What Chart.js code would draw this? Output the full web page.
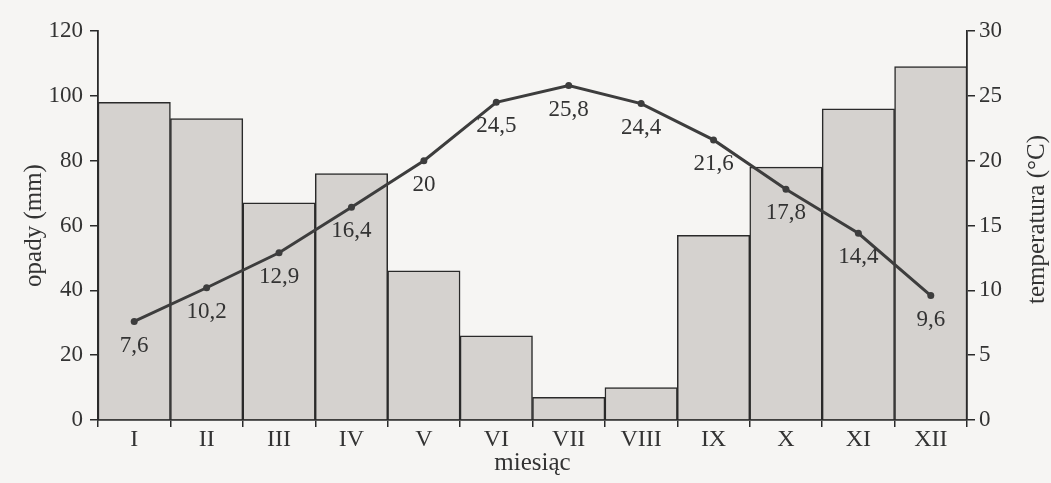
<!DOCTYPE html>
<html>
<head>
<meta charset="utf-8">
<script src="https://cdn.jsdelivr.net/npm/chart.js@4"></script>
<style>
  html, body { margin: 0; padding: 0; background: #f6f5f3; }
  canvas { display: block; }
</style>
</head>
<body>
<canvas id="chart" width="1051" height="483"></canvas>
<script>
// months (Roman numerals) and the two series
const months = ['I', 'II', 'III', 'IV', 'V', 'VI', 'VII', 'VIII', 'IX', 'X', 'XI', 'XII'];
const precipitation = [98, 93, 67, 76, 46, 26, 7, 10, 57, 78, 96, 109];   // opady (mm)
const temperature = [7.6, 10.2, 12.9, 16.4, 20, 24.5, 25.8, 24.4, 21.6, 17.8, 14.4, 9.6]; // °C
const precipTicks = [0, 20, 40, 60, 80, 100, 120];
const tempTicks = [0, 5, 10, 15, 20, 25, 30];

const FONT = 'Liberation Serif';
const INK = '#2a2a2a';
const TEXT = '#333';

// plain page-coloured background
const paper = {
  id: 'paper',
  beforeDraw(chart) {
    const { ctx, width, height } = chart;
    ctx.save();
    ctx.fillStyle = '#f6f5f3';
    ctx.fillRect(0, 0, width, height);
    ctx.restore();
  },
};

// temperature values under each point (decimal comma) + right axis title read bottom-up
const annotations = {
  id: 'annotations',
  afterDatasetsDraw(chart) {
    const meta = chart.getDatasetMeta(1);
    const { ctx, chartArea } = chart;
    ctx.save();
    ctx.font = `23px "${FONT}"`;
    ctx.fillStyle = TEXT;
    ctx.textAlign = 'center';
    ctx.textBaseline = 'middle';
    meta.data.forEach((pt, i) => {
      const txt = String(temperature[i]).replace('.', ',');
      ctx.fillText(txt, pt.x, pt.y + 24);
    });

    ctx.font = `25px "${FONT}"`;
    ctx.translate(chart.width - 14, (chartArea.top + chartArea.bottom) / 2 - 6);
    ctx.rotate(-Math.PI / 2);
    ctx.fillText('temperatura (°C)', 0, 0);
    ctx.restore();
  },
};

new Chart(document.getElementById('chart'), {
  data: {
    labels: months,
    datasets: [
      {
        type: 'bar',
        label: 'opady',
        data: precipitation,
        yAxisID: 'yP',
        backgroundColor: '#d5d2cf',
        borderColor: INK,
        borderWidth: 1.5,
        categoryPercentage: 1,
        barPercentage: 1,
        order: 2,
      },
      {
        type: 'line',
        label: 'temperatura',
        data: temperature,
        yAxisID: 'yT',
        borderColor: '#3d3d3d',
        borderWidth: 3,
        pointRadius: 3.5,
        pointBackgroundColor: '#3d3d3d',
        pointBorderWidth: 0,
        tension: 0,
        order: 1,
      },
    ],
  },
  options: {
    responsive: false,
    animation: false,
    layout: { padding: { top: 31, left: 0, right: 0, bottom: 0 } },
    plugins: {
      legend: { display: false },
      tooltip: { enabled: false },
    },
    scales: {
      x: {
        offset: true,
        grid: {
          offset: true,
          drawOnChartArea: false,
          tickLength: 7,
          color: INK,
          lineWidth: 1.5,
        },
        border: { color: INK, width: 1.8 },
        ticks: { color: TEXT, font: { family: FONT, size: 24 }, padding: -2 },
        title: {
          display: true,
          text: 'miesiąc',
          color: TEXT,
          font: { family: FONT, size: 25 },
          padding: { top: 0, bottom: 5 },
        },
        afterFit(scale) { scale.height = 63; },
      },
      yP: {
        position: 'left',
        min: 0,
        max: 120,
        afterBuildTicks(scale) { scale.ticks = precipTicks.map(v => ({ value: v })); },
        grid: { drawOnChartArea: false, tickLength: 8, color: INK, lineWidth: 1.5 },
        border: { color: INK, width: 1.8 },
        ticks: { color: TEXT, font: { family: FONT, size: 23 }, padding: 7 },
        title: {
          display: true,
          text: 'opady (mm)',
          color: TEXT,
          font: { family: FONT, size: 25 },
          padding: { top: 19, bottom: 0 },
        },
        afterFit(scale) { scale.width = 98; },
      },
      yT: {
        position: 'right',
        min: 0,
        max: 30,
        afterBuildTicks(scale) { scale.ticks = tempTicks.map(v => ({ value: v })); },
        grid: { drawOnChartArea: false, tickLength: 8, color: INK, lineWidth: 1.5 },
        border: { color: INK, width: 1.8 },
        ticks: { color: TEXT, font: { family: FONT, size: 23 }, padding: 4 },
        afterFit(scale) { scale.width = 84; },
      },
    },
  },
  plugins: [paper, annotations],
});
</script>
</body>
</html>
